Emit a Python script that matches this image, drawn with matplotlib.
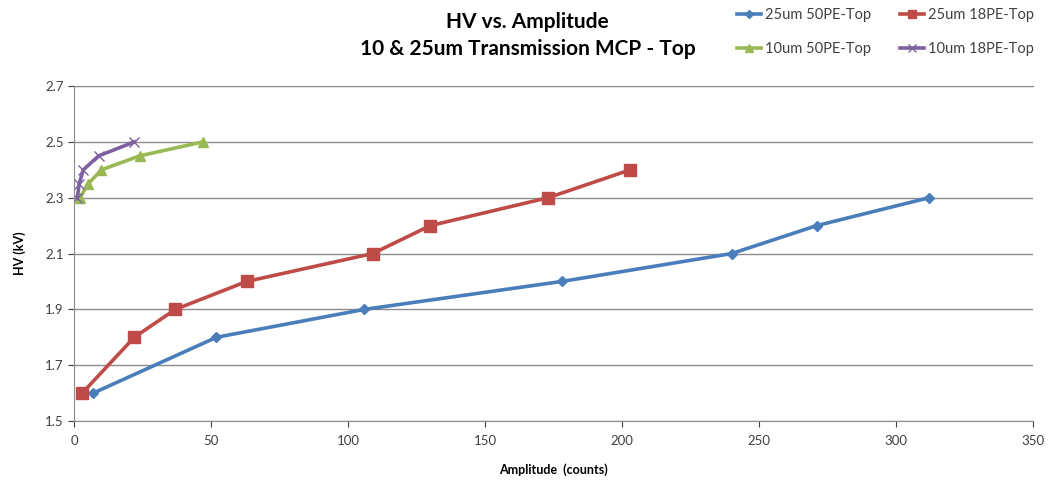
import matplotlib
matplotlib.use('Agg')
from matplotlib import pyplot as plt

plt.rcParams['font.family'] = ['Lato', 'DejaVu Sans']

# data (amplitude in counts, HV in kV)
amp_25_50 = [7, 52, 106, 178, 240, 271, 312]
hv_25_50 = [1.6, 1.8, 1.9, 2.0, 2.1, 2.2, 2.3]

amp_25_18 = [3, 22, 37, 63, 109, 130, 173, 203]
hv_25_18 = [1.6, 1.8, 1.9, 2.0, 2.1, 2.2, 2.3, 2.4]

amp_10_50 = [2.2, 5.2, 10, 24, 47]
hv_10_50 = [2.3, 2.35, 2.4, 2.45, 2.5]

amp_10_18 = [1.2, 1.9, 3.4, 9, 22]
hv_10_18 = [2.3, 2.35, 2.4, 2.45, 2.5]

labels = ['25um 50PE-Top', '25um 18PE-Top', '10um 50PE-Top', '10um 18PE-Top']
x_ticks = [0, 50, 100, 150, 200, 250, 300, 350]
y_ticks = [1.5, 1.7, 1.9, 2.1, 2.3, 2.5, 2.7]

fig = plt.figure(figsize=(10.51, 4.93), dpi=100)
ax = fig.add_axes([0.0704, 0.146, 0.9126, 0.6794])

l1, = ax.plot(amp_25_50, hv_25_50, color='#4A7EBB', lw=2.6, marker='D', ms=5, label=labels[0])
l2, = ax.plot(amp_25_18, hv_25_18, color='#BE4B48', lw=2.6, marker='s', ms=8, label=labels[1])
l3, = ax.plot(amp_10_50, hv_10_50, color='#98B954', lw=2.6, marker='^', ms=7, label=labels[2])
l4, = ax.plot(amp_10_18, hv_10_18, color='#7D60A0', lw=2.6, marker='x', ms=7, mew=1, label=labels[3])

ax.set_xlim(0, 350)
ax.set_ylim(1.5, 2.7)
ax.set_xticks(x_ticks)
ax.set_yticks(y_ticks)
ax.set_yticklabels([f'{v:.1f}' for v in y_ticks])
ax.tick_params(labelsize=9.5, colors='#404040', length=4, width=0.8)
ax.tick_params(axis='x', pad=6)

ax.grid(axis='y', color='#8c8c8c', lw=1)
ax.set_axisbelow(True)
ax.spines['right'].set_visible(False)
for side in ['left', 'bottom', 'top']:
    ax.spines[side].set_color('#8c8c8c')

ax.set_xlabel('Amplitude  (counts)', fontsize=9, fontweight='bold', labelpad=12)
ax.set_ylabel('HV (kV)', fontsize=9, fontweight='bold', labelpad=14)

fig.text(0.502, 0.955, 'HV vs. Amplitude', ha='center', va='center', fontsize=15, fontweight='bold')
fig.text(0.502, 0.9, '10 & 25um Transmission MCP - Top', ha='center', va='center', fontsize=15, fontweight='bold')

# legend: two rows, 25um on top, 10um below
fig.legend([l1, l3, l2, l4], [labels[0], labels[2], labels[1], labels[3]],
           loc='center left', bbox_to_anchor=(0.696, 0.935), ncol=2, frameon=False,
           fontsize=10.5, columnspacing=2.0, handlelength=1.6, handletextpad=0.3,
           labelspacing=1.35, labelcolor='#404040', borderaxespad=0, markerscale=0.75)

plt.savefig('out.png', dpi=100)
